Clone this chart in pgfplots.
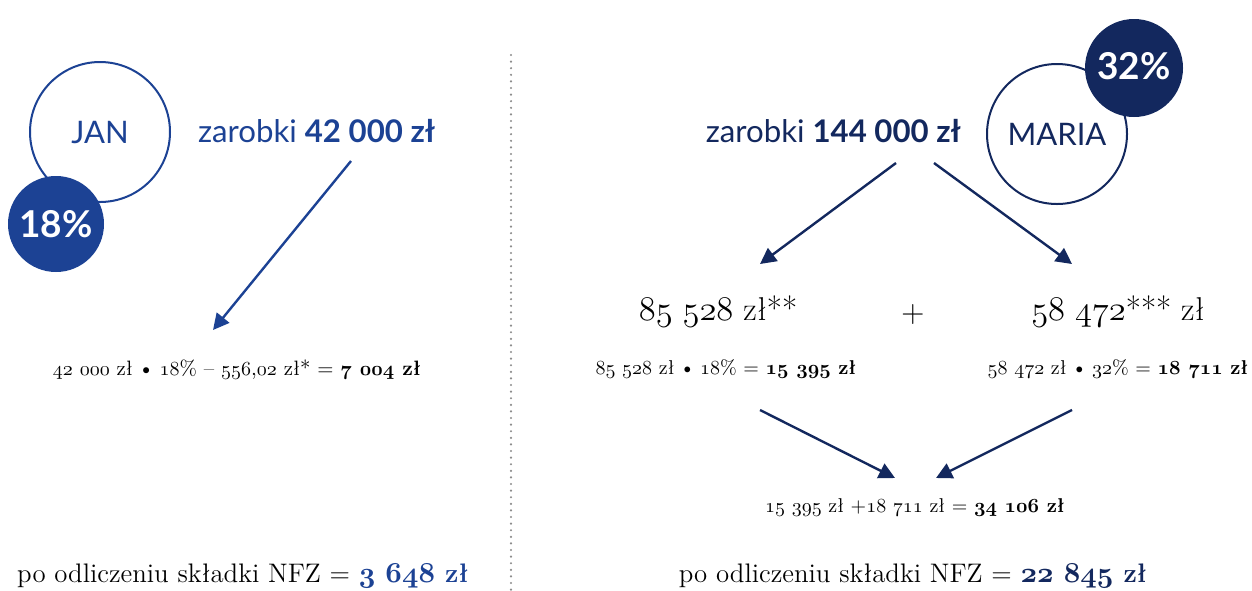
\documentclass[border=0pt]{standalone}
\usepackage{fontspec}
\usepackage{pgfplots}
\pgfplotsset{compat=1.18}
\usetikzlibrary{arrows.meta}
\newfontfamily\lato{Lato}
\definecolor{janblue}{RGB}{28,66,148}
\definecolor{navy}{RGB}{19,40,94}
\definecolor{dotgray}{RGB}{140,140,140}
\newcommand\osf[1]{{\usefont{OML}{cmm}{m}{it}#1}}
\newcommand\osfb[1]{{\usefont{OML}{cmm}{b}{it}#1}}
\newcommand\bul{\hspace{0.25em}\textbullet\hspace{0.25em}}
\begin{document}
\begin{tikzpicture}
\begin{axis}[width=626pt,height=295pt,scale only axis,
  xmin=0,xmax=1252,ymin=0,ymax=590,y dir=reverse,
  axis lines=none,clip=false]
% divider
\addplot[dotgray,line width=1.2pt,line cap=round,dash pattern=on 0pt off 3.3pt] coordinates {(511,55) (511,590)};
% arrows
\addplot[janblue,line width=1.2pt,-{Triangle[length=8pt,width=8pt]}] coordinates {(351,161) (213,330)};
\addplot[navy,line width=1.2pt,-{Triangle[length=8pt,width=8pt]}] coordinates {(896,163) (760,264)};
\addplot[navy,line width=1.2pt,-{Triangle[length=8pt,width=8pt]}] coordinates {(934,163) (1072,264)};
\addplot[navy,line width=1.2pt,-{Triangle[length=8pt,width=8pt]}] coordinates {(760,410) (895,478)};
\addplot[navy,line width=1.2pt,-{Triangle[length=8pt,width=8pt]}] coordinates {(1072,410) (936,478)};
% JAN
\draw[janblue,line width=1pt,fill=white] (axis cs:100,132) circle[radius=70];
\fill[janblue] (axis cs:56,224) circle[radius=48];
\node[janblue,font=\lato\fontsize{15.5}{18}\selectfont] at (axis cs:100,133) {JAN};
\node[white,font=\lato\bfseries\fontsize{18.5}{22}\selectfont] at (axis cs:56,224) {18\%};
\node[janblue,font=\lato\fontsize{15.6}{18}\selectfont,anchor=west] at (axis cs:191,131) {zarobki \textbf{42 000 zł}};
% MARIA
\draw[navy,line width=1pt,fill=white] (axis cs:1057,134) circle[radius=70];
\fill[navy] (axis cs:1134,68) circle[radius=49];
\node[navy,font=\lato\fontsize{15.5}{18}\selectfont] at (axis cs:1057,134) {MARIA};
\node[white,font=\lato\bfseries\fontsize{18.5}{22}\selectfont] at (axis cs:1134,66) {32\%};
\node[navy,font=\lato\fontsize{15.6}{18}\selectfont,anchor=east] at (axis cs:968,131) {zarobki \textbf{144 000 zł}};
% Jan formula
\node[font=\fontsize{10.4}{12}\selectfont] at (axis cs:237,370) {\osf{42} \osf{000} zł\bul\osf{18}\% -- \osf{556},\osf{02} zł* = \textbf{\osfb{7} \osfb{004} zł}};
\node[font=\fontsize{13.4}{16}\selectfont] at (axis cs:243,576) {po odliczeniu składki NFZ = \textcolor{janblue}{\textbf{\osfb{3} \osfb{648} zł}}};
% Maria formulas
\node[font=\fontsize{16.5}{19}\selectfont] at (axis cs:718,311) {\osf{85} \osf{528} zł**};
\node[font=\fontsize{16}{19}\selectfont] at (axis cs:913,315) {+};
\node[font=\fontsize{16.5}{19}\selectfont] at (axis cs:1118,311) {\osf{58} \osf{472}*** zł};
\node[font=\fontsize{10}{12}\selectfont] at (axis cs:726,369) {\osf{85} \osf{528} zł\bul\osf{18}\% = \textbf{\osfb{15} \osfb{395} zł}};
\node[font=\fontsize{10}{12}\selectfont] at (axis cs:1118,369) {\osf{58} \osf{472} zł\bul\osf{32}\% = \textbf{\osfb{18} \osfb{711} zł}};
\node[font=\fontsize{10}{12}\selectfont] at (axis cs:915,507) {\osf{15} \osf{395} zł +\osf{18} \osf{711} zł = \textbf{\osfb{34} \osfb{106} zł}};
\node[font=\fontsize{13.4}{16}\selectfont] at (axis cs:913,576) {po odliczeniu składki NFZ = \textcolor{navy}{\textbf{\osfb{22} \osfb{845} zł}}};
\end{axis}
\pgfresetboundingbox
\path (current axis.south west) rectangle (current axis.north east);
\end{tikzpicture}
\end{document}
